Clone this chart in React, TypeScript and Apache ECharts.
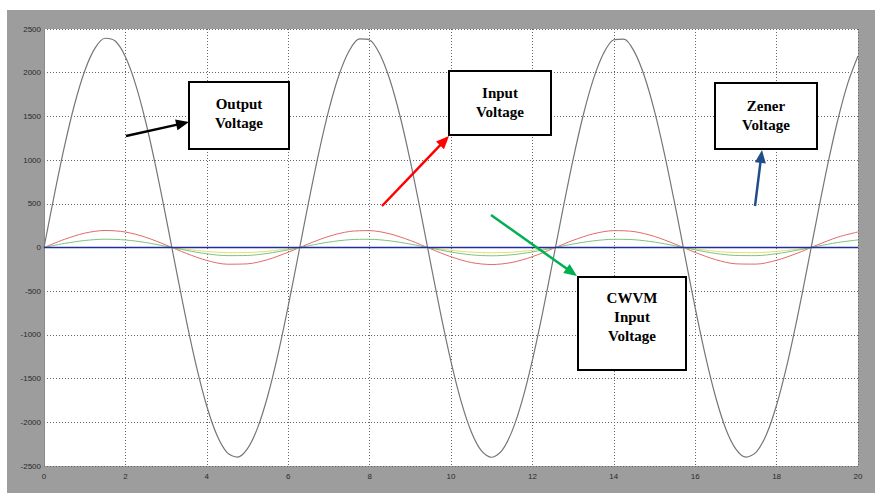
import React, { useEffect, useRef } from "react";
import * as echarts from "echarts";

const outputTime = [
  0, 0.25, 0.5, 0.75, 1, 1.25, 1.5, 1.75, 2, 2.25, 2.5, 2.75, 3, 3.25, 3.5, 3.75, 4, 4.25, 4.5, 4.75,
  5, 5.25, 5.5, 5.75, 6, 6.25, 6.5, 6.75, 7, 7.25, 7.5, 7.75, 8, 8.25, 8.5, 8.75, 9, 9.25, 9.5, 9.75,
  10, 10.25, 10.5, 10.75, 11, 11.25, 11.5, 11.75, 12, 12.25, 12.5, 12.75, 13, 13.25, 13.5, 13.75, 14,
  14.25, 14.5, 14.75, 15, 15.25, 15.5, 15.75, 16, 16.25, 16.5, 16.75, 17, 17.25, 17.5, 17.75, 18,
  18.25, 18.5, 18.75, 19, 19.25, 19.5, 19.75, 20,
];
const outputVoltage = [
  0, 594, 1151, 1636, 2020, 2278, 2394, 2362, 2182, 1867, 1436, 916, 339, -260, -842, -1372, -1816,
  -2148, -2346, -2398, -2301, -2061, -1693, -1220, -671, -80, 516, 1080, 1577, 1976, 2251, 2387, 2375,
  2214, 1916, 1499, 989, 417, -181, -768, -1306, -1764, -2111, -2328, -2400, -2323, -2101, -1749,
  -1288, -747, -159, 438, 1008, 1516, 1929, 2223, 2377, 2385, 2244, 1963, 1561, 1061, 496, -101, -691,
  -1238, -1708, -2073, -2307, -2399, -2341, -2139, -1802, -1355, -822, -239, 360, 936, 1453, 1881, 2191,
];
const timeValues = [
  0, 0.5, 1, 1.5, 2, 2.5, 3, 3.5, 4, 4.5, 5, 5.5, 6, 6.5, 7, 7.5, 8, 8.5, 9, 9.5, 10,
  10.5, 11, 11.5, 12, 12.5, 13, 13.5, 14, 14.5, 15, 15.5, 16, 16.5, 17, 17.5, 18, 18.5, 19, 19.5, 20,
];
const inputVoltage = [
  0, 93, 164, 195, 177, 117, 28, -68, -148, -191, -187, -138, -54, 42, 128, 183, 193, 156, 80, -15,
  -106, -172, -195, -171, -105, -13, 82, 157, 193, 182, 127, 40, -56, -139, -187, -190, -146, -67, 29,
  118, 178,
];
const cwvmInputVoltage = [
  0, 46, 80, 95, 86, 57, 13, -33, -72, -93, -91, -67, -27, 20, 62, 89, 94, 76, 39, -7, -52, -84, -95,
  -83, -51, -6, 40, 76, 94, 89, 62, 20, -27, -68, -91, -93, -71, -32, 14, 57, 87,
];
const yellowTrace = [
  0, 0, 0, 0, 0, 0, 0, -21, -45, -59, -58, -42, -17, 0, 0, 0, 0, 0, 0, -5, -33, -53, -60, -53, -32, -4,
  0, 0, 0, 0, 0, 0, -17, -43, -58, -59, -45, -21, 0, 0, 0,
];
const zenerVoltage = [
  0, 0, 0, 0, 0, 0, 0, 0, 0, 0, 0, 0, 0, 0, 0, 0, 0, 0, 0, 0, 0, 0, 0, 0, 0, 0, 0, 0, 0, 0, 0, 0, 0, 0,
  0, 0, 0, 0, 0, 0, 0,
];
const xTicks = { min: 0, max: 20, interval: 2 };
const yTicks = { min: -2500, max: 2500, interval: 500 };

const pair = (xs: number[], ys: number[]) => xs.map((t, i) => [t, ys[i]]);

const serif = "'Liberation Serif', 'Times New Roman', serif";

function box(x: number, y: number, w: number, h: number, label: string, cy: number) {
  return [
    {
      type: "rect",
      z: 100,
      shape: { x, y, width: w, height: h },
      style: { fill: "#fff", stroke: "#000", lineWidth: 2 },
    },
    {
      type: "text",
      z: 101,
      x: x + w / 2,
      y: cy,
      style: {
        text: label,
        fill: "#000",
        font: `bold 15px ${serif}`,
        align: "center",
        verticalAlign: "middle",
        lineHeight: 19,
      },
    },
  ];
}

function arrow(x1: number, y1: number, x2: number, y2: number, color: string) {
  const dx = x2 - x1;
  const dy = y2 - y1;
  const len = Math.sqrt(dx * dx + dy * dy);
  const ux = dx / len;
  const uy = dy / len;
  const nx = -uy;
  const ny = ux;
  const hl = 13;
  const hw = 5.5;
  const bx = x2 - hl * ux;
  const by = y2 - hl * uy;
  return [
    {
      type: "line",
      z: 100,
      shape: { x1, y1, x2: bx + ux, y2: by + uy },
      style: { stroke: color, lineWidth: 2.5 },
    },
    {
      type: "polygon",
      z: 100,
      shape: {
        points: [
          [x2, y2],
          [bx + hw * nx, by + hw * ny],
          [bx - hw * nx, by - hw * ny],
        ],
      },
      style: { fill: color },
    },
  ];
}

export default function App() {
  const ref = useRef<HTMLDivElement>(null);
  useEffect(() => {
    document.body.style.margin = "0";
    const chart = echarts.init(ref.current!, undefined, { renderer: "svg" });
    const lineSeries = (
      name: string,
      xs: number[],
      data: number[],
      color: string,
      width: number,
      z: number
    ) => ({
      name,
      type: "line",
      data: pair(xs, data),
      showSymbol: false,
      smooth: 0.3,
      z,
      lineStyle: { color, width },
    });
    chart.setOption({
      animation: false,
      backgroundColor: "#fff",
      grid: {
        left: 44,
        top: 29,
        right: 17,
        bottom: 27,
        show: true,
        backgroundColor: "#fff",
        borderWidth: 0,
      },
      xAxis: {
        type: "value",
        ...xTicks,
        axisLine: { show: true, lineStyle: { color: "#6a6a6a", width: 1 } },
        axisTick: { show: false },
        axisLabel: { color: "#2a2a2a", fontSize: 8, fontFamily: "Arial, sans-serif", margin: 6 },
        splitLine: { show: true, lineStyle: { color: "#666", type: [1, 2], width: 1 } },
      },
      yAxis: {
        type: "value",
        ...yTicks,
        axisLine: { show: true, lineStyle: { color: "#8a8a8a", width: 1 } },
        axisTick: { show: false },
        axisLabel: {
          color: "#2a2a2a",
          fontSize: 8,
          fontFamily: "Arial, sans-serif",
          margin: 3,
          formatter: (v: number) => String(v),
        },
        splitLine: { show: true, lineStyle: { color: "#666", type: [1, 2], width: 1 } },
      },
      series: [
        lineSeries("Output Voltage", outputTime, outputVoltage, "#767676", 1.2, 3),
        lineSeries("Input Voltage", timeValues, inputVoltage, "#e06a6a", 1, 3),
        lineSeries("Yellow", timeValues, yellowTrace, "#e6dc70", 1, 3),
        lineSeries("CWVM Input Voltage", timeValues, cwvmInputVoltage, "#7cc47c", 1, 3),
        lineSeries("Zener Voltage", timeValues, zenerVoltage, "#1f2f9a", 1.5, 4),
      ],
      graphic: [
        {
          type: "rect",
          z: -100,
          silent: true,
          shape: { x: 7, y: 10, width: 868, height: 483 },
          style: { fill: "#9d9d9d" },
        },
        ...arrow(126, 136, 189, 122, "#000"),
        ...arrow(382, 206, 449, 136, "#ff0000"),
        ...arrow(755, 206, 762, 150, "#1f4e89"),
        ...arrow(491, 215, 577, 276, "#00b050"),
        ...box(189, 82, 100, 67, "Output\nVoltage", 113),
        ...box(449, 71, 102, 64, "Input\nVoltage", 102),
        ...box(715, 83, 102, 66, "Zener\nVoltage", 115),
        ...box(578, 277, 108, 93, "CWVM\nInput\nVoltage", 317),
      ],
    });
    return () => chart.dispose();
  }, []);
  return <div ref={ref} style={{ width: 875, height: 493 }} />;
}
